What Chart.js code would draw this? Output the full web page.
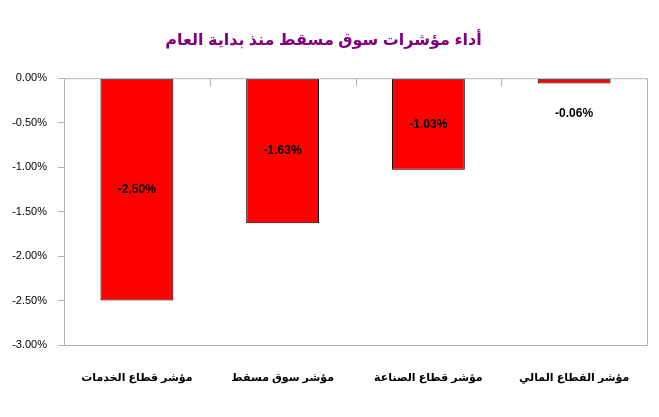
<!DOCTYPE html>
<html>
<head>
<meta charset="utf-8">
<script src="https://cdn.jsdelivr.net/npm/chart.js@4.4.1/dist/chart.umd.min.js"></script>
<style>
  html, body { margin: 0; padding: 0; background: #ffffff; }
  #wrap { width: 659px; height: 417px; }
</style>
</head>
<body>
<div id="wrap"><canvas id="c" width="659" height="417"></canvas></div>
<script>
const titleText = 'أداء مؤشرات سوق مسقط منذ بداية العام';
const categories = ['مؤشر قطاع الخدمات', 'مؤشر سوق مسقط', 'مؤشر قطاع الصناعة', 'مؤشر القطاع المالي'];
const values = [-2.50, -1.63, -1.03, -0.06];
const yTicks = { min: -3, max: 0, step: 0.5 };

const FONT = "Arial, 'Liberation Sans', 'DejaVu Sans', sans-serif";
const AXIS_GRAY = '#b3b3b3';

const framePlugin = {
  id: 'frame',
  afterDraw(chart) {
    const { ctx, chartArea: a, scales: { x } } = chart;
    ctx.save();
    ctx.strokeStyle = AXIS_GRAY;
    ctx.lineWidth = 1;
    ctx.beginPath();
    ctx.moveTo(a.left, a.top + 0.5); ctx.lineTo(a.right + 0.5, a.top + 0.5);
    ctx.lineTo(a.right + 0.5, a.bottom + 0.5);
    ctx.lineTo(a.left, a.bottom + 0.5);
    ctx.stroke();
    for (let i = 1; i < categories.length; i++) {
      const px = Math.round((x.getPixelForValue(i - 1) + x.getPixelForValue(i)) / 2) + 0.5;
      ctx.beginPath();
      ctx.moveTo(px, a.top);
      ctx.lineTo(px, a.top + 8);
      ctx.stroke();
    }
    ctx.restore();
  }
};

const labelPlugin = {
  id: 'barLabels',
  afterDatasetsDraw(chart) {
    const { ctx } = chart;
    const meta = chart.getDatasetMeta(0);
    ctx.save();
    ctx.font = 'bold 12px ' + FONT;
    ctx.fillStyle = '#000000';
    ctx.textAlign = 'center';
    ctx.textBaseline = 'middle';
    meta.data.forEach((bar, i) => {
      const h = Math.abs(bar.y - bar.base);
      let y = (bar.y + bar.base) / 2;
      if (h < 20) y = Math.max(bar.y, bar.base) + 30;
      ctx.fillText(values[i].toFixed(2) + '%', bar.x, y);
    });
    ctx.restore();
  }
};

new Chart(document.getElementById('c'), {
  type: 'bar',
  data: {
    labels: categories,
    datasets: [{
      data: values,
      backgroundColor: '#ff0000',
      borderColor: '#000000',
      borderWidth: 1,
      borderSkipped: false,
      barPercentage: 0.5,
      categoryPercentage: 1.0
    }]
  },
  options: {
    responsive: false,
    animation: false,
    devicePixelRatio: 1,
    layout: { padding: { top: 0, left: 0, right: 12, bottom: 0 } },
    plugins: {
      legend: { display: false },
      tooltip: { enabled: false },
      title: {
        display: true,
        text: titleText,
        color: '#800080',
        font: { family: FONT, size: 16, weight: 'bold' },
        padding: { top: 31, bottom: 28 }
      }
    },
    scales: {
      x: {
        position: 'bottom',
        grid: { display: false, drawTicks: false },
        border: { display: false },
        ticks: {
          color: '#000000',
          font: { family: FONT, size: 11, weight: 'bold' },
          padding: 26,
          maxRotation: 0,
          autoSkip: false
        },
        afterFit(s) { s.height = 72; }
      },
      y: {
        min: yTicks.min,
        max: yTicks.max,
        grid: {
          drawOnChartArea: false,
          drawTicks: true,
          tickLength: 6,
          color: AXIS_GRAY
        },
        border: { display: true, color: AXIS_GRAY },
        ticks: {
          stepSize: yTicks.step,
          color: '#000000',
          font: { family: FONT, size: 11 },
          padding: 11,
          callback: v => v.toFixed(2) + '%'
        },
        afterFit(s) { s.width = 64; }
      }
    }
  },
  plugins: [framePlugin, labelPlugin]
});
</script>
</body>
</html>
